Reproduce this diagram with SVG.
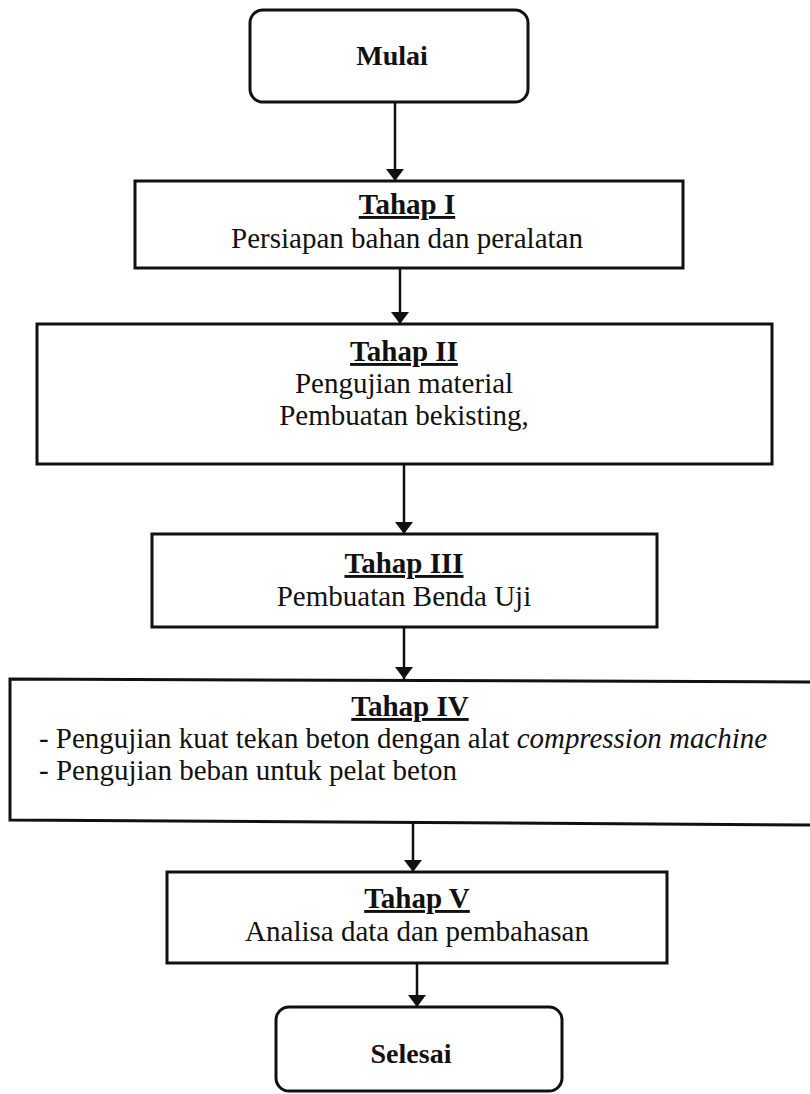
<svg xmlns="http://www.w3.org/2000/svg" width="810" height="1094" viewBox="0 0 810 1094">
  <style>
    .box { fill: #ffffff; stroke: #111111; stroke-width: 3; }
    .wire { stroke: #111111; stroke-width: 2.5; fill: none; }
    text { font-family: "Liberation Serif", "Times New Roman", serif; fill: #111111; font-size: 29px; }
    .c { text-anchor: middle; }
    .b { font-weight: bold; font-size: 28px; }
    .u { font-weight: bold; text-decoration: underline; }
  </style>
  <defs>
    <marker id="head" viewBox="0 0 12 18" refX="12" refY="9" markerWidth="12" markerHeight="18" markerUnits="userSpaceOnUse" orient="auto">
      <path d="M0,0 L12,9 L0,18 Z" fill="#111111"/>
    </marker>
  </defs>
  <rect width="810" height="1094" fill="#ffffff"/>

  <!-- connectors -->
  <g id="connectors">
    <line class="wire" x1="395" y1="102" x2="395" y2="181" marker-end="url(#head)"/>
    <line class="wire" x1="400" y1="268" x2="400" y2="324" marker-end="url(#head)"/>
    <line class="wire" x1="404" y1="464" x2="404" y2="534" marker-end="url(#head)"/>
    <line class="wire" x1="404" y1="627" x2="404" y2="679" marker-end="url(#head)"/>
    <line class="wire" x1="413" y1="822" x2="413" y2="872" marker-end="url(#head)"/>
    <line class="wire" x1="417" y1="963" x2="417" y2="1007" marker-end="url(#head)"/>
  </g>

  <!-- start -->
  <g id="mulai">
    <rect class="box" x="250" y="10" width="278" height="92" rx="13"/>
    <text class="c b" x="392" y="65">Mulai</text>
  </g>

  <!-- stage I -->
  <g id="tahap1">
    <rect class="box" x="135" y="181" width="548" height="87"/>
    <text class="c u" x="407" y="214">Tahap I</text>
    <text class="c" x="407" y="248">Persiapan bahan dan peralatan</text>
  </g>

  <!-- stage II -->
  <g id="tahap2">
    <rect class="box" x="37" y="324" width="735" height="140"/>
    <text class="c u" x="404" y="361">Tahap II</text>
    <text class="c" x="404" y="393">Pengujian material</text>
    <text class="c" x="404" y="425">Pembuatan bekisting,</text>
  </g>

  <!-- stage III -->
  <g id="tahap3">
    <rect class="box" x="152" y="534" width="505" height="93"/>
    <text class="c u" x="404" y="573">Tahap III</text>
    <text class="c" x="404" y="606">Pembuatan Benda Uji</text>
  </g>

  <!-- stage IV, its right edge runs off the sheet -->
  <g id="tahap4">
    <path class="box" d="M812,682 L10,679 L10,820 L812,825"/>
    <text class="c u" x="410" y="716">Tahap IV</text>
    <text x="39" y="748" textLength="728" lengthAdjust="spacingAndGlyphs">- Pengujian kuat tekan beton dengan alat <tspan font-style="italic">compression machine</tspan></text>
    <text x="39" y="780">- Pengujian beban untuk pelat beton</text>
  </g>

  <!-- stage V -->
  <g id="tahap5">
    <rect class="box" x="167" y="872" width="500" height="91"/>
    <text class="c u" x="417" y="908">Tahap V</text>
    <text class="c" x="417" y="941">Analisa data dan pembahasan</text>
  </g>

  <!-- end -->
  <g id="selesai">
    <rect class="box" x="276" y="1007" width="286" height="84" rx="13"/>
    <text class="c b" x="411" y="1063">Selesai</text>
  </g>
</svg>
